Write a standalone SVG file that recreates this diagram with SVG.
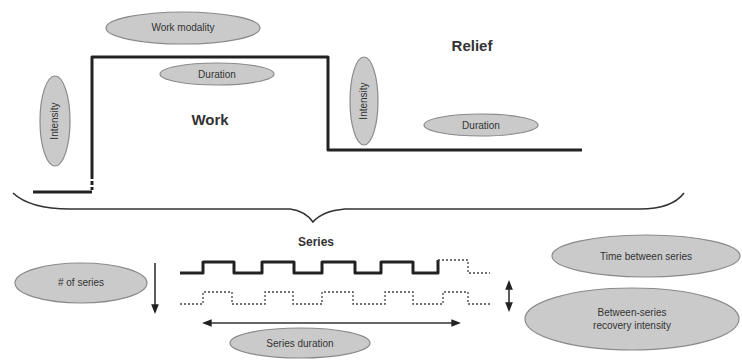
<svg xmlns="http://www.w3.org/2000/svg" width="742" height="360" viewBox="0 0 742 360">
<style>
.oval{fill:#cacaca;stroke:#8a8a8a;stroke-width:1.2}
.lbl{font-family:"Liberation Sans",Arial,sans-serif;font-size:10px;fill:#333;text-anchor:middle}
.big{font-family:"Liberation Sans",Arial,sans-serif;font-weight:bold;fill:#333;text-anchor:middle}
.thick{fill:none;stroke:#222;stroke-width:3;stroke-linejoin:round}
.thin{fill:none;stroke:#333;stroke-width:1.6}
.dots{fill:none;stroke:#444;stroke-width:1.3;stroke-dasharray:2 2}
</style>
<defs>
<marker id="ah" viewBox="0 0 10 10" refX="8" refY="5" markerWidth="6" markerHeight="6" orient="auto-start-reverse">
<path d="M0,1 L10,5 L0,9 z" fill="#222"/>
</marker>
</defs>
<rect width="742" height="360" fill="#fff"/>
<g id="connectors">
<path class="thick" d="M92,175 L92,57 L328,57 L328,150 L582,150"/>
<path class="thick" d="M92,175 L92,190" stroke-dasharray="4 2"/>
<path class="thick" d="M92,192 L33,192"/>
<path class="thin" d="M13,193 Q30,209 70,209 L290,209 Q305,211 313,222 Q322,211 345,209 L640,209 Q672,209 684,193"/>
<path class="thick" d="M180,273 L203,273 L203,262 L234,262 L234,273 L262,273 L262,262 L294,262 L294,273 L322,273 L322,262 L355,262 L355,273 L381,273 L381,262 L413,262 L413,273 L438,273 L438,260"/>
<path class="dots" d="M438,260 L468,260 L468,273 L490,273"/>
<path class="dots" d="M180,304 L203,304 L203,292 L232,292 L232,304 L265,304 L265,292 L293,292 L293,304 L322,304 L322,292 L353,292 L353,304 L385,304 L385,292 L413,292 L413,304 L443,304 L443,292 L468,292 L468,304 L492,304"/>
<line class="thin" x1="155" y1="263" x2="155" y2="312" marker-end="url(#ah)"/>
<line class="thin" x1="509" y1="282" x2="509" y2="310" stroke-width="2" marker-start="url(#ah)" marker-end="url(#ah)"/>
<line class="thin" x1="204" y1="323" x2="459" y2="323" stroke-width="2" marker-start="url(#ah)" marker-end="url(#ah)"/>
</g>
<g id="work-modality"><ellipse class="oval" cx="183" cy="28" rx="77" ry="16"/><text class="lbl" x="183" y="31">Work modality</text></g>
<g id="work-duration"><ellipse class="oval" cx="217" cy="74" rx="57" ry="11"/><text class="lbl" x="217" y="78">Duration</text></g>
<g id="work-intensity"><ellipse class="oval" cx="55" cy="121" rx="15" ry="45"/><text class="lbl" transform="translate(58,121) rotate(-90)">Intensity</text></g>
<g id="work"><text class="big" x="210" y="125" font-size="15">Work</text></g>
<g id="relief"><text class="big" x="472" y="51" font-size="15">Relief</text></g>
<g id="relief-intensity"><ellipse class="oval" cx="364" cy="101" rx="14" ry="44"/><text class="lbl" transform="translate(367,101) rotate(-90)">Intensity</text></g>
<g id="relief-duration"><ellipse class="oval" cx="481" cy="125" rx="57" ry="11"/><text class="lbl" x="481" y="129">Duration</text></g>
<g id="series"><text class="big" x="316" y="246" font-size="12">Series</text></g>
<g id="num-series"><ellipse class="oval" cx="81" cy="283" rx="66" ry="20"/><text class="lbl" x="81" y="286"># of series</text></g>
<g id="series-duration"><ellipse class="oval" cx="300" cy="343" rx="70" ry="15"/><text class="lbl" x="300" y="347">Series duration</text></g>
<g id="time-between"><ellipse class="oval" cx="646" cy="256" rx="94" ry="21"/><text class="lbl" x="646" y="260">Time between series</text></g>
<g id="recovery"><ellipse class="oval" cx="632" cy="319" rx="107" ry="31"/><text class="lbl" x="632" y="316">Between-series</text><text class="lbl" x="632" y="329">recovery intensity</text></g>
</svg>
